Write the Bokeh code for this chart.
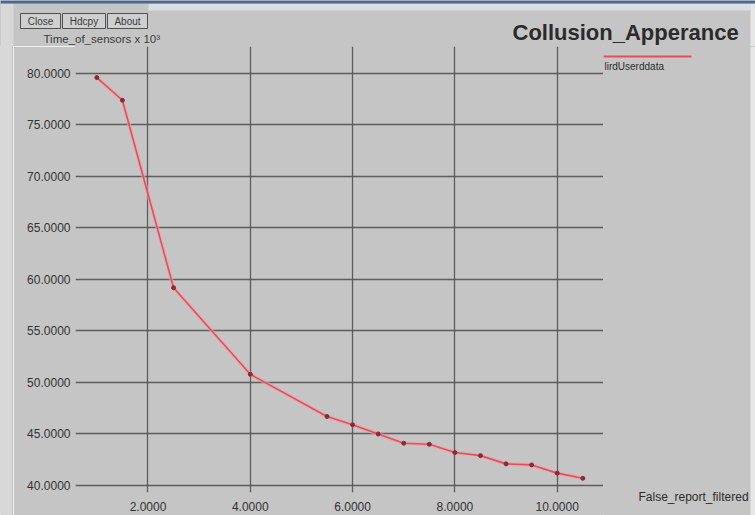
from bokeh.plotting import figure
from bokeh.models import Label, BoxAnnotation, Range1d, FixedTicker, PrintfTickFormatter
from bokeh.layouts import column, row
from bokeh.embed import file_html
from bokeh.resources import INLINE

# ---- data ----
x_vals = [1.0, 1.5, 2.5, 4.0, 5.5, 6.0, 6.5, 7.0, 7.5, 8.0, 8.5, 9.0, 9.5, 10.0, 10.5]
y_vals = [79.6, 77.4, 59.2, 50.8, 46.7, 45.9, 45.0, 44.1, 44.0, 43.2, 42.9, 42.1, 42.0, 41.2, 40.7]
x_ticks = [2, 4, 6, 8, 10]
y_ticks = [40, 45, 50, 55, 60, 65, 70, 75, 80]

title_text = "Collusion_Apperance"
y_label_text = "Time_of_sensors x 10\u00b3"
x_label_text = "False_report_filtered"
legend_text = "lirdUserddata"
buttons = ["Close", "Hdcpy", "About"]

BG = "#c5c5c5"
GRID = "#525252"
TXT = "#333333"
STRIP = "#d8d8d8"
FONT = "Liberation Sans"
LINE_C = "#e0505c"


def blank(w, h, bg=BG):
    f = figure(width=w, height=h, output_backend="svg", toolbar_location=None,
               x_axis_location=None, y_axis_location=None,
               x_range=Range1d(0, w), y_range=Range1d(0, h),
               min_border=0, min_border_left=0, min_border_right=0,
               min_border_top=0, min_border_bottom=0, frame_align=False)
    f.title = None
    f.grid.visible = False
    f.outline_line_color = bg
    f.background_fill_color = bg
    f.border_fill_color = bg
    return f


def lab(f, x, y, text, size, color=TXT, bold=False, align="left", baseline="middle"):
    f.add_layout(Label(x=x, y=y, x_units="screen", y_units="screen", text=text,
                       text_font=FONT, text_font_size=size, text_color=color,
                       text_font_style="bold" if bold else "normal",
                       text_baseline=baseline, text_align=align))


def box(f, l, r, b, t, fill, line=None, alpha=1.0):
    f.add_layout(BoxAnnotation(left=l, right=r, top=t, bottom=b,
                               left_units="screen", right_units="screen",
                               top_units="screen", bottom_units="screen",
                               fill_color=fill, fill_alpha=alpha,
                               line_color=line, line_width=1, line_alpha=1.0))


# ---------------- top strip (page y 0-46) ----------------
top = blank(755, 46)
box(top, 0, 13, 0, 43, STRIP)
box(top, 148, 750, 36, 43, "#dadde1")
box(top, 750, 755, 0, 43, "#e6e6e6")
box(top, 0, 755, 43, 46, "#4a6792")
btn_l = [20, 62, 107]
btn_r = [60, 105, 147]
for name, l, r in zip(buttons, btn_l, btn_r):
    box(top, l, r, 18, 33, "#cfcfcf", "#505050")
    lab(top, (l + r) / 2, 25.5, name, "10px", color="#3a3a3a", align="center")
lab(top, 512, 14, title_text, "22px", color="#2b2b2b", bold=True, baseline="alphabetic")
lab(top, 43, 7.5, y_label_text, "11.5px", color="#3a3a3a", baseline="alphabetic")

# ---------------- left strip ----------------
left = blank(13, 469, STRIP)
box(left, 12, 13, 0, 469, "#a8a8a8")

# ---------------- main chart ----------------
p = figure(width=590, height=469, output_backend="svg", toolbar_location=None,
           x_range=Range1d(0.583, 10.905), y_range=Range1d(39.32, 82.62),
           min_border_left=62, min_border_right=0, min_border_top=0, min_border_bottom=23,
           frame_align=False)
p.title = None
p.background_fill_color = BG
p.border_fill_color = BG
p.outline_line_color = BG

for ax in (p.xaxis[0], p.yaxis[0]):
    ax.axis_line_color = None
    ax.major_tick_line_color = None
    ax.minor_tick_line_color = None
    ax.major_tick_out = 0
    ax.major_tick_in = 0
    ax.minor_tick_out = 0
    ax.minor_tick_in = 0
    ax.major_label_text_font = FONT
    ax.major_label_text_font_size = "12px"
    ax.major_label_text_color = TXT
    ax.formatter = PrintfTickFormatter(format="%.4f")
p.xaxis[0].ticker = FixedTicker(ticks=x_ticks)
p.yaxis[0].ticker = FixedTicker(ticks=y_ticks)
p.xaxis[0].major_label_standoff = 9
p.yaxis[0].major_label_standoff = 5

p.xgrid[0].ticker = FixedTicker(ticks=x_ticks)
p.ygrid[0].ticker = FixedTicker(ticks=y_ticks)
for g in (p.xgrid[0], p.ygrid[0]):
    g.grid_line_color = GRID
    g.grid_line_width = 1.3
    g.grid_line_alpha = 0.9

p.line(x_vals, y_vals, line_color="#f4a0a8", line_width=4, line_alpha=0.6)
p.line(x_vals, y_vals, line_color=LINE_C, line_width=1.6)
p.scatter(x_vals, y_vals, size=4, color="#8a2a3a")

# ---------------- right strip (legend, x label) ----------------
right = blank(152, 469)
box(right, 147, 152, 0, 469, "#e6e6e6")
box(right, 0, 88, 458, 460, LINE_C)
lab(right, 1, 449, legend_text, "10px", color="#2b2b2b", baseline="alphabetic")
lab(right, 35, 19, x_label_text, "12px", color="#2b2b2b")

layout = column(top, row(left, p, right, spacing=0), spacing=0)
open("out.html", "w").write(file_html(layout, INLINE))
